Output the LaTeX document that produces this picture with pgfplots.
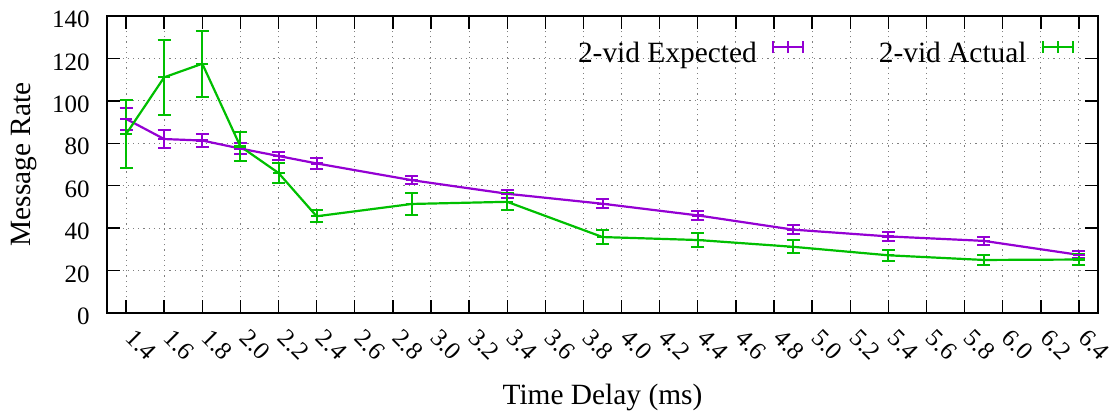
\documentclass[border=0pt]{standalone}
\usepackage{fontspec}
\setmainfont{Liberation Serif}
\usepackage{pgfplots}
\pgfplotsset{compat=1.18}
\definecolor{cexp}{HTML}{9400D3}
\definecolor{cact}{HTML}{00BF00}
\begin{document}
\begin{tikzpicture}
\begin{axis}[
  scale only axis,
  width=495.5pt, height=148.5pt,
  xmin=1.3, xmax=6.5, ymin=0, ymax=140,
  xtick={1.4,1.6,1.8,2.0,2.2,2.4,2.6,2.8,3.0,3.2,3.4,3.6,3.8,4.0,4.2,4.4,4.6,4.8,5.0,5.2,5.4,5.6,5.8,6.0,6.2,6.4},
  ytick={0,20,40,60,80,100,120,140},
  /pgf/number format/assume math mode=true,
  xticklabel={\pgfmathprintnumber[fixed,fixed zerofill,precision=1]{\tick}},
  xticklabel style={font=\fontsize{12.5}{14}\selectfont, inner sep=0pt, xshift=5pt, yshift=-7pt, rotate=-45, anchor=north west},
  yticklabel style={font=\fontsize{12.5}{14}\selectfont, inner sep=0pt, xshift=-8.5pt, yshift=-1.75pt},
  tick align=inside,
  major tick length=6.5pt,
  every tick/.style={black, line width=0.7pt},
  axis line style={line width=0.9pt},
  grid=major,
  grid style={gray, line width=0.5pt, dash pattern=on 0.6pt off 2pt},
  xlabel={Time Delay (ms)},
  ylabel={Message Rate},
  label style={font=\fontsize{14.7}{17}\selectfont},
  xlabel style={at={(axis description cs:0.5,0)}, anchor=base, yshift=-46pt},
  ylabel style={at={(axis description cs:-0.0838,0.5)}, anchor=center},
  legend columns=2,
  legend plot pos=right,
  legend cell align=right,
  legend style={draw=none, fill=none, at={(rel axis cs:1,1)}, anchor=east, xshift=-12pt, yshift=-18.5pt,
    font=\fontsize{14.7}{17}\selectfont, inner sep=0pt, nodes={inner sep=0pt},
    /tikz/every odd column/.style={column sep=7.5pt},
    /tikz/every even column/.style={column sep=37.5pt}},
  legend image code/.code={
    \draw[line width=1pt] (0pt,3.5pt) -- (15pt,3.5pt);
    \draw[line width=1pt] (0pt,0.5pt) -- (0pt,6.5pt);
    \draw[line width=1pt] (7.5pt,0.5pt) -- (7.5pt,6.5pt);
    \draw[line width=1pt] (15pt,0.5pt) -- (15pt,6.5pt);
  },
]
\coordinate (sw) at (rel axis cs:0,0);
\coordinate (ne) at (rel axis cs:1,1);
\addplot[cexp, line width=1.1pt, mark=-, mark size=3pt,
  error bars/.cd, y dir=both, y explicit,
  error bar style={line width=1pt},
  error mark=-,
  error mark options={rotate=90, mark size=3.25pt, line width=1pt}]
  table[x=x, y=y, y error=e] {
x y e
1.4 91.5 5.3
1.6 82.0 4.3
1.8 81.3 3.2
2.0 77.5 2.6
2.2 74.0 2.0
2.4 70.5 2.4
2.9 62.6 2.0
3.4 56.2 2.0
3.9 51.5 2.2
4.4 46.0 2.2
4.9 39.3 2.2
5.4 36.1 2.0
5.9 34.0 2.0
6.4 27.4 1.6
};
\addlegendentry{2-vid Expected}
\addplot[cact, line width=1.1pt, mark=-, mark size=3pt,
  error bars/.cd, y dir=both, y explicit,
  error bar style={line width=1pt},
  error mark=-,
  error mark options={rotate=90, mark size=3.25pt, line width=1pt}]
  table[x=x, y=y, y error=e] {
x y e
1.4 84.3 16.0
1.6 111.1 17.7
1.8 117.5 15.5
2.0 78.5 7.0
2.2 66.0 4.5
2.4 45.6 2.8
2.9 51.4 5.0
3.4 52.4 4.0
3.9 35.8 3.2
4.4 34.4 3.4
4.9 31.2 3.0
5.4 27.2 2.7
5.9 25.0 2.4
6.4 25.2 2.8
};
\addlegendentry{2-vid Actual}
\end{axis}
\pgfresetboundingbox
\path[use as bounding box] ([shift={(-53.5pt,-51.5pt)}]sw) rectangle ([shift={(7pt,8pt)}]ne);
\end{tikzpicture}
\end{document}
